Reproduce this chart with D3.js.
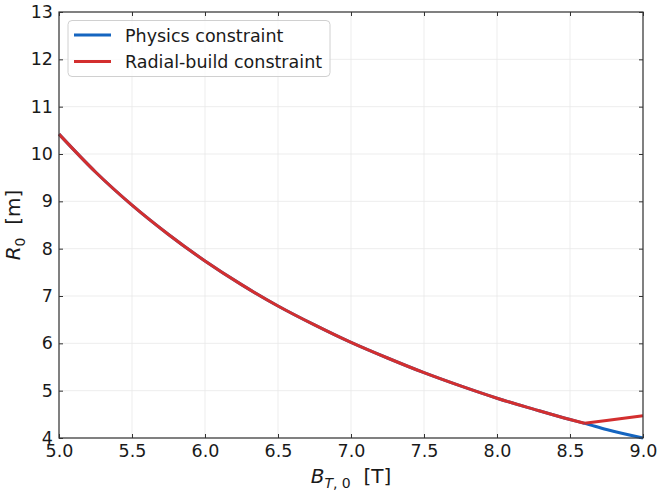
<!DOCTYPE html>
<html>
<head>
<meta charset="utf-8">
<script src="https://cdn.jsdelivr.net/npm/d3@7"></script>
<style>
  body { margin: 0; background: #fff; }
  svg text { font-family: "DejaVu Sans", sans-serif; fill: #1a1a1a; }
</style>
</head>
<body>
<div id="chart"></div>
<script>
// Data
var bField = [5.0, 5.25, 5.5, 5.75, 6.0, 6.25, 6.5, 6.75, 7.0, 7.25, 7.5, 7.75, 8.0, 8.25, 8.5, 8.6, 8.75, 9.0];
var physicsR = [10.42, 9.62, 8.92, 8.30, 7.74, 7.24, 6.79, 6.39, 6.02, 5.69, 5.38, 5.10, 4.84, 4.61, 4.39, 4.31, 4.18, 4.00];
var radialR = [10.42, 9.62, 8.92, 8.30, 7.74, 7.24, 6.79, 6.39, 6.02, 5.69, 5.38, 5.10, 4.84, 4.61, 4.39, 4.31, 4.37, 4.47];
var radialKink = 8.6; // radial-build curve leaves the physics curve here
var xTicks = [5.0, 5.5, 6.0, 6.5, 7.0, 7.5, 8.0, 8.5, 9.0];
var yTicks = [4, 5, 6, 7, 8, 9, 10, 11, 12, 13];
var seriesNames = ["Physics constraint", "Radial-build constraint"];
var seriesColors = ["#1565c0", "#d32f2f"];

var margin = { top: 12, right: 16, bottom: 52, left: 59 },
    width = 659 - margin.left - margin.right,
    height = 490 - margin.top - margin.bottom;

var svg = d3.select("#chart")
  .append("svg")
    .attr("width", 659)
    .attr("height", 490)
  .append("g")
    .attr("transform", `translate(${margin.left},${margin.top})`);

var x = d3.scaleLinear().domain([5, 9]).range([0, width]);
var y = d3.scaleLinear().domain([4, 13]).range([height, 0]);

// grid
svg.append("g").selectAll("line")
  .data(xTicks).enter().append("line")
    .attr("x1", d => x(d)).attr("x2", d => x(d))
    .attr("y1", 0).attr("y2", height)
    .attr("stroke", "#e8e8e8").attr("stroke-width", 0.8);
svg.append("g").selectAll("line")
  .data(yTicks).enter().append("line")
    .attr("y1", d => y(d)).attr("y2", d => y(d))
    .attr("x1", 0).attr("x2", width)
    .attr("stroke", "#e8e8e8").attr("stroke-width", 0.8);

// axes, ticks pointing inward on all four sides
function styleAxis(g) {
  g.select(".domain").remove();
  g.selectAll(".tick line").attr("stroke", "#333");
  g.selectAll(".tick text").style("font-size", "17.5px").attr("fill", "#1a1a1a");
}
svg.append("g")
  .attr("transform", `translate(0,${height})`)
  .call(d3.axisBottom(x).tickValues(xTicks).tickFormat(d3.format(".1f")).tickSizeInner(-4).tickPadding(7))
  .call(styleAxis);
svg.append("g")
  .call(d3.axisLeft(y).tickValues(yTicks).tickFormat(d3.format("d")).tickSizeInner(-4).tickPadding(6))
  .call(styleAxis);
svg.append("g")
  .call(d3.axisTop(x).tickValues(xTicks).tickFormat("").tickSizeInner(-4))
  .call(styleAxis);
svg.append("g")
  .attr("transform", `translate(${width},0)`)
  .call(d3.axisRight(y).tickValues(yTicks).tickFormat("").tickSizeInner(-4))
  .call(styleAxis);

// lines
var pts = function(vals) { return vals.map((v, i) => [bField[i], v]); };
var smooth = d3.line().x(d => x(d[0])).y(d => y(d[1])).curve(d3.curveMonotoneX);
var straight = d3.line().x(d => x(d[0])).y(d => y(d[1]));

svg.append("path")
  .datum(pts(physicsR))
  .attr("fill", "none")
  .attr("stroke", seriesColors[0])
  .attr("stroke-width", 3)
  .attr("d", smooth);

var radialPts = pts(radialR);
svg.append("path")
  .datum(radialPts.filter(d => d[0] <= radialKink))
  .attr("fill", "none")
  .attr("stroke", seriesColors[1])
  .attr("stroke-width", 3)
  .attr("d", smooth);
svg.append("path")
  .datum(radialPts.filter(d => d[0] >= radialKink))
  .attr("fill", "none")
  .attr("stroke", seriesColors[1])
  .attr("stroke-width", 3)
  .attr("stroke-linejoin", "round")
  .attr("d", straight);

// frame
svg.append("rect")
  .attr("width", width).attr("height", height)
  .attr("fill", "none").attr("stroke", "#333").attr("stroke-width", 1.2);

// legend
var legend = svg.append("g").attr("transform", "translate(9,8.5)");
legend.append("rect")
  .attr("width", 262).attr("height", 56)
  .attr("rx", 4)
  .attr("fill", "#fff").attr("fill-opacity", 0.8)
  .attr("stroke", "#d0d0d0");
seriesNames.forEach(function(name, i) {
  var row = legend.append("g").attr("transform", `translate(0,${14.5 + i * 26.5})`);
  row.append("line")
    .attr("x1", 6).attr("x2", 43)
    .attr("stroke", seriesColors[i]).attr("stroke-width", 3);
  row.append("text")
    .attr("x", 57).attr("y", 6.5)
    .style("font-size", "17.5px")
    .text(name);
});

// axis labels
svg.append("text")
  .attr("x", width / 2).attr("y", height + 45)
  .attr("text-anchor", "middle")
  .attr("xml:space", "preserve")
  .style("font-size", "20px")
  .html('<tspan font-style="italic">B</tspan><tspan font-style="italic" font-size="14px" dy="5">T</tspan><tspan font-size="14px">, 0</tspan><tspan dy="-5">  [T]</tspan>');

svg.append("text")
  .attr("transform", `translate(${-39},${height / 2}) rotate(-90)`)
  .attr("text-anchor", "middle")
  .attr("xml:space", "preserve")
  .style("font-size", "20px")
  .html('<tspan font-style="italic">R</tspan><tspan font-size="14px" dy="5">0</tspan><tspan dy="-5">  [m]</tspan>');
</script>
</body>
</html>
